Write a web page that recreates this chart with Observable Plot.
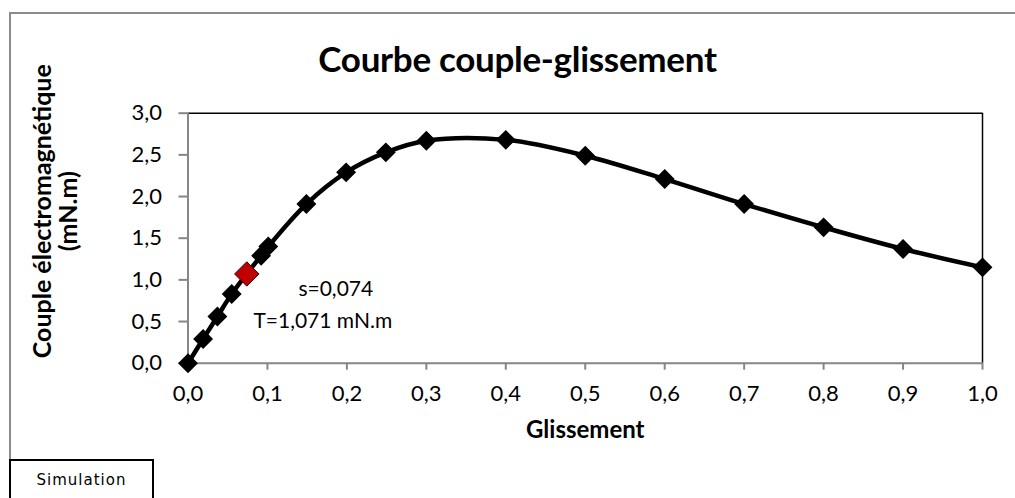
<!DOCTYPE html>
<html><head><meta charset="utf-8">
<script src="https://cdn.jsdelivr.net/npm/d3@7"></script>
<script src="https://cdn.jsdelivr.net/npm/@observablehq/plot@0.6"></script>
<style>
body{margin:0;background:#fff;font-family:Lato, sans-serif;}
#wrap{position:relative;width:1015px;height:498px;overflow:hidden;background:#fff;}
#frame{position:absolute;left:9px;top:12px;width:1100px;height:470px;border-left:2px solid #8c8c8c;border-top:2px solid #8c8c8c;}
#title{position:absolute;left:10px;width:1015px;top:37px;text-align:center;font-weight:bold;font-size:35px;letter-spacing:-0.3px;font-family:Lato, sans-serif;color:#000;}
#sim{position:absolute;left:9px;top:459px;width:141px;height:60px;border:2px solid #000;background:#fff;font-family:'DejaVu Sans', sans-serif;font-size:15px;}
#sim span{position:absolute;left:0;width:141px;top:10px;text-align:center;letter-spacing:1px;}
#chart{position:absolute;left:0;top:0;}
</style>
</head><body>
<div id="wrap">
  <div id="frame"></div>
  <div id="chart"></div>
  <div id="title">Courbe couple-glissement</div>
  <div id="sim"><span>Simulation</span></div>
</div>
<script>
// Data
const slip   = [0, 0.019, 0.037, 0.055, 0.092, 0.101, 0.149, 0.199, 0.249, 0.3, 0.4, 0.5, 0.6, 0.7, 0.8, 0.9, 1.0];
const torque = [0, 0.29, 0.56, 0.83, 1.29, 1.40, 1.91, 2.29, 2.53, 2.67, 2.68, 2.49, 2.21, 1.91, 1.63, 1.37, 1.15];
const opSlip = [0.074];
const opTorque = [1.071];
const xTicks = [0, 0.1, 0.2, 0.3, 0.4, 0.5, 0.6, 0.7, 0.8, 0.9, 1.0];
const yTicks = [0, 0.5, 1.0, 1.5, 2.0, 2.5, 3.0];
const xLabel = "Glissement";
const yLabel = "Couple électromagnétique\n(mN.m)";

const data = slip.map((s, i) => ({s, T: torque[i]}));
const op = opSlip.map((s, i) => ({s, T: opTorque[i]}));
const fmt1 = d => d3.format(".1f")(d).replace(".", ",");
const fmt3 = d => d3.format(".3f")(d).replace(".", ",");

const chart = Plot.plot({
  width: 1015, height: 498,
  marginLeft: 187.5, marginRight: 33, marginTop: 112.7, marginBottom: 135.3,
  x: {domain: [0, 1]},
  y: {domain: [0, 3]},
  style: {fontFamily: "Lato, sans-serif", fontSize: "22px", color: "#000", background: "transparent"},
  marks: [
    Plot.ruleY([3], {stroke: "#000", strokeWidth: 1.5}),
    Plot.ruleX([1], {stroke: "#000", strokeWidth: 1.5}),
    Plot.ruleX([0], {stroke: "#868686", strokeWidth: 2}),
    Plot.ruleY([0], {stroke: "#868686", strokeWidth: 2}),
    Plot.axisX({ticks: xTicks, tickFormat: fmt1, tickSize: 7, tickPadding: 15, stroke: "#868686", strokeWidth: 2, fill: "#000", label: null, fontSize: 22}),
    Plot.axisY({ticks: yTicks, tickFormat: fmt1, tickSize: 9, tickPadding: 17, stroke: "#868686", strokeWidth: 2, fill: "#000", label: null, fontSize: 22}),
    Plot.text([xLabel], {frameAnchor: "bottom", dy: 75, fontWeight: "bold", fontSize: 24, fill: "#000"}),
    Plot.text([yLabel], {frameAnchor: "left", textAnchor: "middle", dx: -132, dy: -27, rotate: -90, fontWeight: "bold", fontSize: 25, lineHeight: 1.02, fill: "#000"}),
    Plot.line(data, {x: "s", y: "T", curve: "catmull-rom", stroke: "#000", strokeWidth: 4.5}),
    Plot.dot(data, {x: "s", y: "T", symbol: "diamond2", r: 8, fill: "#000", stroke: "#000"}),
    Plot.dot(op, {x: "s", y: "T", symbol: "diamond2", r: 11, fill: "#c00000", stroke: "#3a0000", strokeWidth: 1}),
    Plot.text(op, {x: "s", y: "T", text: d => `s=${fmt3(d.s)}`, dx: 89, dy: 15, fontSize: 21, fill: "#000"}),
    Plot.text(op, {x: "s", y: "T", text: d => `T=${fmt3(d.T)} mN.m`, dx: 76, dy: 47, fontSize: 21, fill: "#000"})
  ]
});
document.getElementById("chart").appendChild(chart);
</script>
</body></html>
